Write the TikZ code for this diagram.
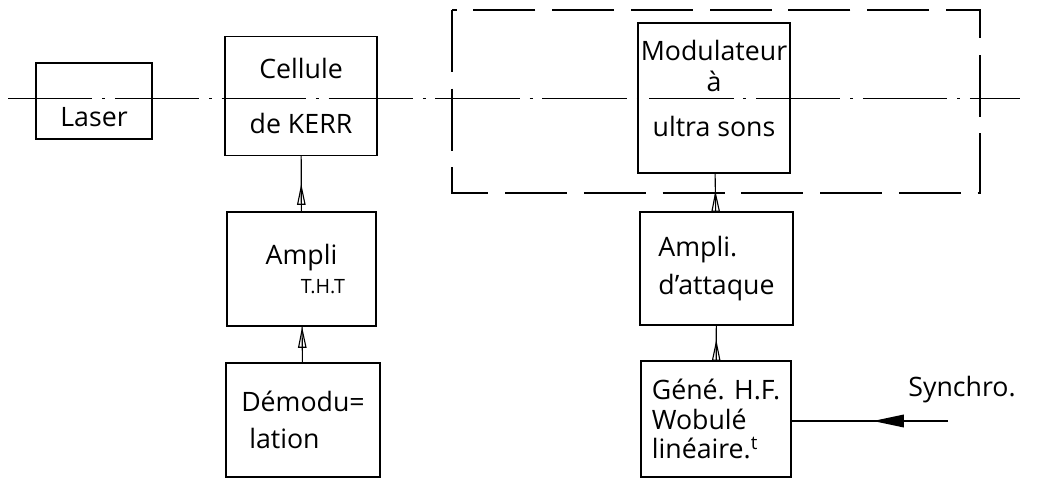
\documentclass[tikz,border=0pt]{standalone}
\usepackage{fontspec}
\setmainfont{Open Sans}
\usetikzlibrary{arrows.meta,decorations.markings}

\tikzset{
  axisline/.style={line width=0.7pt, dash pattern=on 60pt off 7pt on 2pt off 7pt},
  block/.style={draw, line width=1pt, align=center, inner sep=2pt,
    font=\fontsize{19}{23}\selectfont},
  upflow/.style={decoration={markings, mark=at position #1 with
    {\arrow{Triangle[open,width=6pt,length=15pt]}}}, postaction={decorate}},
  syncflow/.style={decoration={markings, mark=at position #1 with
    {\arrow{Triangle[width=9pt,length=22pt]}}}, postaction={decorate}},
}

\begin{document}
\begin{tikzpicture}[x=0.025cm, y=-0.025cm]
  \useasboundingbox (0,0) rectangle (1038,479);
  % optical axis
  \draw[axisline] (8,98) -- (1020,98);
  % frame round the modulator
  \draw[line width=1.2pt, dash pattern=on 44pt off 12pt] (452,10) rectangle (980,193);
  % blocks
  \node[block, text height=36pt, text depth=0pt, minimum width=2.9cm,
    minimum height=1.9cm] (laser) at (94,101) {Laser};
  \node[block, minimum width=3.8cm, minimum height=2.975cm] (kerr)
    at (301,96) {Cellule\\[16pt]de KERR};
  \node[block, minimum width=3.725cm, minimum height=2.85cm] (tht)
    at (301.5,269) {Ampli\\[-3pt]\hspace*{1.6em}{\fontsize{14}{17}\selectfont T.H.T}};
  \node[block, align=left, minimum width=3.85cm, minimum height=2.85cm] (demod)
    at (303,420) {Démodu=\\[3pt]\hspace*{0.3em}lation};
  \node[block, text depth=14pt, minimum width=3.75cm, minimum height=3.75cm] (modul)
    at (714,98) {Modulateur\\[-1pt]à\\[9pt]ultra sons};
  \node[block, align=left, minimum width=3.825cm, minimum height=2.825cm] (attaque)
    at (716.5,268.5) {Ampli.\\[4pt]d'attaque};
  \node[block, align=left, minimum width=3.75cm, minimum height=2.9cm] (gene)
    at (716,419) {Géné. H.F.\\[-2pt]Wobulé\\[-2pt]linéaire.\textsuperscript{t}};
  % synchro input
  \coordinate (synch) at (948,421);
  \node[font=\fontsize{19}{23}\selectfont] (synchtext) at (962,390) {Synchro.};
  % connectors
  \draw[line width=0.8pt, upflow=0.5] (tht) -- (kerr);
  \draw[line width=0.8pt, upflow=1] (demod) -- (tht);
  \draw[line width=0.8pt, upflow=0.55] (attaque) -- (modul);
  \draw[line width=0.8pt, upflow=0.6] (gene) -- (attaque);
  \draw[line width=1pt, syncflow=0.48] (synch) -- (synch -| gene.east);
\end{tikzpicture}
\end{document}
